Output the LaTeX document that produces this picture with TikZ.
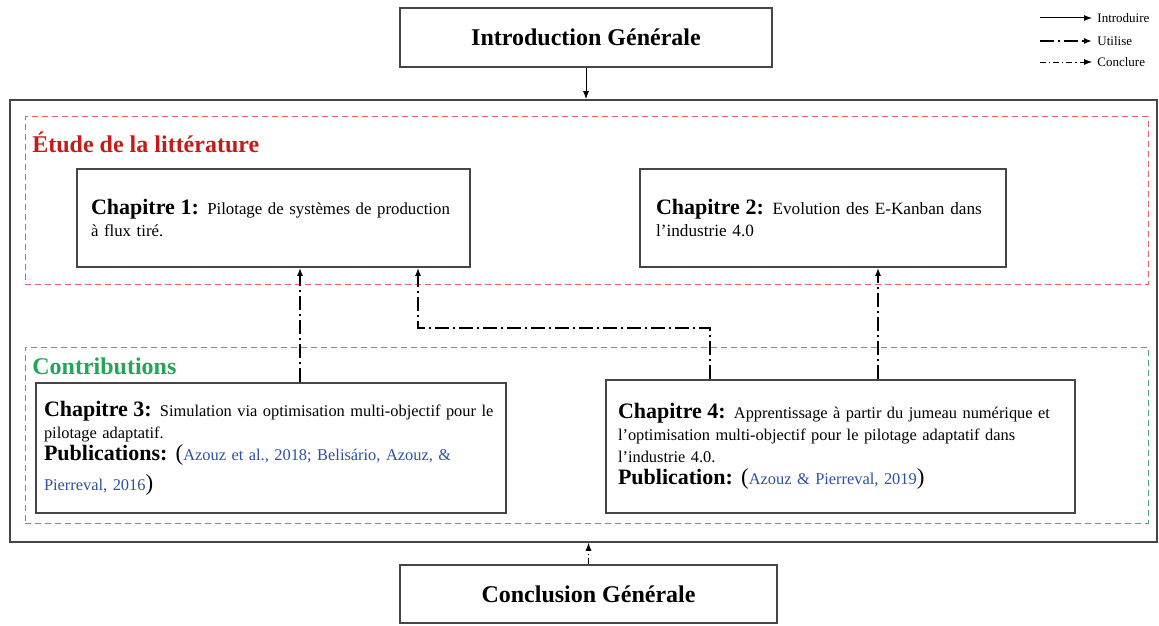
\documentclass[tikz,border=0pt]{standalone}
\usepackage{fontspec}
\setmainfont{Liberation Serif}
\usetikzlibrary{arrows.meta,positioning}
\definecolor{titred}{RGB}{200,25,25}
\definecolor{boxred}{RGB}{225,100,100}
\definecolor{titgreen}{RGB}{35,165,90}
\definecolor{boxgreen}{RGB}{70,170,125}
\definecolor{citeblue}{RGB}{45,80,160}
\definecolor{framegray}{RGB}{70,70,70}
\newcommand{\chaphead}[1]{{\fontsize{11}{11}\selectfont\bfseries #1}}
\newcommand{\pubhead}[1]{{\fontsize{11}{11}\selectfont\bfseries #1}}
\newcommand{\pubref}[1]{\textcolor{citeblue}{#1}}
\newcommand{\bigpar}[1]{{\fontsize{11.5}{11}\selectfont #1}}
\tikzset{main box/.style={rectangle,draw=framegray,line width=0.8pt,inner sep=0pt},
         title box/.style={main box,font=\bfseries\fontsize{12}{14}\selectfont},
         chap box/.style={main box,align=left,inner xsep=#1},
         chap box/.default=8pt,
         part box/.style={rectangle,draw=#1,line width=0.5pt,dash pattern=on 3pt off 2pt,inner sep=0pt},
         part title/.style={anchor=west,inner sep=0pt,font=\bfseries\fontsize{12}{14}\selectfont},
         legend text/.style={anchor=west,inner sep=0pt,font=\fontsize{6.5}{8}\selectfont},
         introduire/.style={-{Latex[length=4pt,width=3pt]},line width=0.5pt},
         utilise/.style={-{Latex[length=4pt,width=3pt]},line width=1.2pt,dash pattern=on 7pt off 2pt on 1pt off 2pt},
         conclure/.style={-{Latex[length=4pt,width=3pt]},line width=0.4pt,dash pattern=on 3pt off 1.5pt on 0.6pt off 1.5pt}
}
\begin{document}
\begin{tikzpicture}[x=0.5pt,y=-0.5pt]
\useasboundingbox (0,0) rectangle (1159,625);
% cadre principal et parties
\node[main box,minimum width=573.5pt,minimum height=221pt] (outer) at (583.5,321) {};
\node[part box=boxred,minimum width=561.5pt,minimum height=83.5pt] (lit) at (586.5,200.5) {};
\node[part box=boxgreen,minimum width=561.5pt,minimum height=88pt] (contrib) at (586.5,435) {};
\node[part title,text=titred] (littitle) at (32,142) {Étude de la littérature};
\node[part title,text=titgreen] (contribtitle) at (32,366) {Contributions};

% intro / conclusion
\node[title box,minimum width=186pt,minimum height=29.5pt] (intro) at (586,37.5) {Introduction Générale};
\node[title box,minimum width=188.5pt,minimum height=29pt] (concl) at (588.5,594) {Conclusion Générale};

% chapitres
\node[chap box=7pt,minimum width=196.5pt,minimum height=49pt,text width=182.5pt,
      font=\fontsize{8.4}{11}\selectfont] (ch1) at (273.5,218)
  {\chaphead{Chapitre 1:} Pilotage de systèmes de production\\ à flux tiré.};
\node[chap box,minimum width=183pt,minimum height=49pt,text width=167pt,
      font=\fontsize{8.6}{11}\selectfont] (ch2) at (823,218)
  {\chaphead{Chapitre 2:} Evolution des E-Kanban dans\\ l’industrie 4.0};
\node[chap box=4pt,minimum width=235pt,minimum height=65pt,text width=227pt,
      font=\fontsize{8.2}{11}\selectfont] (ch3) at (271,448)
  {\chaphead{Chapitre 3:} Simulation via optimisation multi-objectif pour le\\
   pilotage adaptatif.\\
   \pubhead{Publications:} \bigpar{(}\pubref{Azouz et al., 2018; Belisário, Azouz, \&}\\[4pt]
   \pubref{Pierreval, 2016}\bigpar{)}};
\node[chap box=6pt,minimum width=234.5pt,minimum height=66.5pt,text width=222.5pt,
      font=\fontsize{8.2}{11}\selectfont] (ch4) at (840.5,446.5)
  {\chaphead{Chapitre 4:} Apprentissage à partir du jumeau numérique et\\
   l’optimisation multi-objectif pour le pilotage adaptatif dans\\
   l’industrie 4.0.\\
   \pubhead{Publication:} \bigpar{(}\pubref{Azouz \& Pierreval, 2019}\bigpar{)}};

% liens
\coordinate (xa) at (300,0);
\coordinate (xb) at (418,0);
\coordinate (xd) at (878,0);
\coordinate (bend) at (710,328);
\draw[introduire] (intro.south) -- (intro.south |- outer.north);
\draw[conclure] (concl.north) -- (concl.north |- outer.south);
\draw[utilise] (xa |- ch3.north) -- (xa |- ch1.south);
\draw[utilise] (xd |- ch4.north) -- (xd |- ch2.south);
\draw[utilise] (bend |- ch4.north) -- (bend) -- (bend -| xb) -- (xb |- ch1.south);

% legende
\node[legend text] (lgintro) at (1097,18) {Introduire};
\node[legend text] (lguse) at (1097,41) {Utilise};
\node[legend text] (lgconcl) at (1097,62) {Conclure};
\coordinate (lgstart) at (1040,0);
\draw[introduire] (lgstart |- lgintro.west) -- ([xshift=-2.5pt]lgintro.west);
\draw[utilise] (lgstart |- lguse.west) -- ([xshift=-2.5pt]lguse.west);
\draw[conclure] (lgstart |- lgconcl.west) -- ([xshift=-2.5pt]lgconcl.west);
\end{tikzpicture}
\end{document}
